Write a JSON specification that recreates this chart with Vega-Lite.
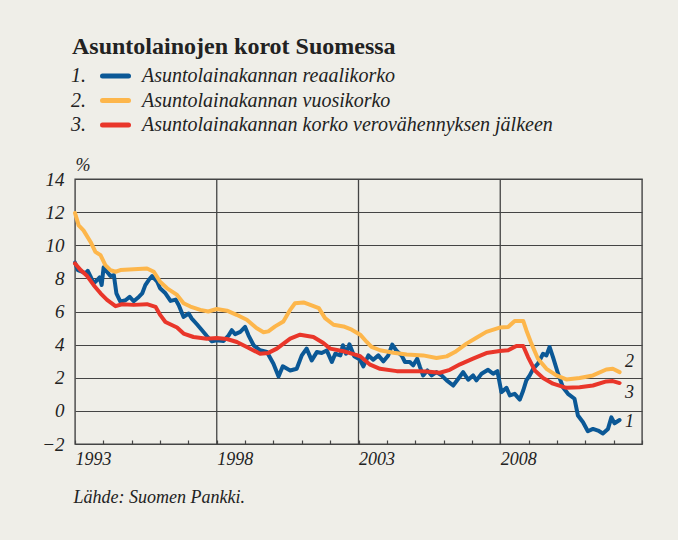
{
  "$schema": "https://vega.github.io/schema/vega-lite/v6.json",
  "width": 567,
  "height": 265,
  "autosize": {"type": "none"},
  "padding": {"left": 75, "top": 179, "right": 36, "bottom": 96},
  "background": "#EFEEE8",
  "config": {
    "view": {"stroke": "#444444", "strokeWidth": 1.4, "fill": "#EFEEE8"},
    "font": "Liberation Serif",
    "axisX": {
      "values": [1993,1994,1995,1996,1997,1998,1999,2000,2001,2002,2003,2004,2005,2006,2007,2008,2009,2010,2011,2012],
      "format": "d",
      "labelExpr": "(datum.value % 5 == 3 && datum.value < 2012) ? datum.label : ''",
      "labelAlign": "left",
      "labelBaseline": "alphabetic",
      "labelPadding": 24,
      "labelOverlap": false,
      "labelFont": "Liberation Serif",
      "labelFontStyle": "italic",
      "labelFontSize": 18,
      "labelColor": "#222222",
      "tickSize": -4,
      "tickColor": "#444444",
      "tickWidth": 1.2,
      "domain": false,
      "grid": false,
      "titleFont": "Liberation Serif",
      "titleFontStyle": "italic",
      "titleFontWeight": "normal",
      "titleFontSize": 18,
      "titleColor": "#222222",
      "titleAnchor": "start",
      "titleAlign": "left",
      "titleBaseline": "alphabetic",
      "titleX": -2,
      "titleY": 58
    },
    "axisY": {
      "values": [-2, 0, 2, 4, 6, 8, 10, 12, 14],
      "grid": true,
      "gridColor": "#444444",
      "gridWidth": 1.2,
      "gridOpacity": 1,
      "ticks": false,
      "domain": false,
      "labelOverlap": false,
      "labelPadding": 11,
      "labelFont": "Liberation Serif",
      "labelFontStyle": "italic",
      "labelFontSize": 19,
      "labelColor": "#222222",
      "labelBaseline": "middle",
      "titleAngle": 0,
      "titleFont": "Liberation Serif",
      "titleFontStyle": "italic",
      "titleFontWeight": "normal",
      "titleFontSize": 18,
      "titleColor": "#222222",
      "titleAlign": "left",
      "titleBaseline": "alphabetic",
      "titleX": 0,
      "titleY": -9
    }
  },
  "title": {
    "text": "Asuntolainojen korot Suomessa",
    "anchor": "start",
    "frame": "group",
    "font": "Liberation Serif",
    "fontSize": 24,
    "fontWeight": "bold",
    "color": "#222222",
    "dx": -3,
    "offset": 7
  },
  "datasets": {
    "lines": [
      {"s":"1","t":1993.0,"v":8.95},{"s":"1","t":1993.1,"v":8.5},{"s":"1","t":1993.25,"v":8.4},{"s":"1","t":1993.37,"v":8.3},{"s":"1","t":1993.45,"v":8.46},{"s":"1","t":1993.55,"v":8.1},{"s":"1","t":1993.66,"v":7.7},{"s":"1","t":1993.78,"v":7.9},{"s":"1","t":1993.87,"v":8.06},{"s":"1","t":1993.94,"v":7.6},{"s":"1","t":1994.01,"v":8.67},{"s":"1","t":1994.13,"v":8.4},{"s":"1","t":1994.25,"v":8.14},{"s":"1","t":1994.37,"v":8.2},{"s":"1","t":1994.46,"v":7.1},{"s":"1","t":1994.6,"v":6.6},{"s":"1","t":1994.78,"v":6.68},{"s":"1","t":1994.93,"v":6.88},{"s":"1","t":1995.07,"v":6.62},{"s":"1","t":1995.25,"v":6.88},{"s":"1","t":1995.37,"v":7.09},{"s":"1","t":1995.48,"v":7.59},{"s":"1","t":1995.6,"v":7.9},{"s":"1","t":1995.72,"v":8.14},{"s":"1","t":1995.9,"v":7.8},{"s":"1","t":1996.0,"v":7.4},{"s":"1","t":1996.19,"v":7.1},{"s":"1","t":1996.37,"v":6.64},{"s":"1","t":1996.55,"v":6.72},{"s":"1","t":1996.66,"v":6.38},{"s":"1","t":1996.83,"v":5.67},{"s":"1","t":1997.01,"v":5.88},{"s":"1","t":1997.12,"v":5.57},{"s":"1","t":1997.3,"v":5.23},{"s":"1","t":1997.48,"v":4.87},{"s":"1","t":1997.65,"v":4.52},{"s":"1","t":1997.83,"v":4.2},{"s":"1","t":1998.0,"v":4.26},{"s":"1","t":1998.24,"v":4.22},{"s":"1","t":1998.42,"v":4.56},{"s":"1","t":1998.53,"v":4.87},{"s":"1","t":1998.65,"v":4.63},{"s":"1","t":1998.83,"v":4.77},{"s":"1","t":1999.0,"v":5.07},{"s":"1","t":1999.12,"v":4.56},{"s":"1","t":1999.3,"v":3.96},{"s":"1","t":1999.53,"v":3.66},{"s":"1","t":1999.77,"v":3.56},{"s":"1","t":2000.0,"v":2.85},{"s":"1","t":2000.18,"v":2.08},{"s":"1","t":2000.33,"v":2.69},{"s":"1","t":2000.59,"v":2.44},{"s":"1","t":2000.82,"v":2.54},{"s":"1","t":2001.0,"v":3.35},{"s":"1","t":2001.17,"v":3.76},{"s":"1","t":2001.35,"v":3.05},{"s":"1","t":2001.53,"v":3.55},{"s":"1","t":2001.7,"v":3.49},{"s":"1","t":2001.88,"v":3.65},{"s":"1","t":2002.06,"v":2.95},{"s":"1","t":2002.18,"v":3.45},{"s":"1","t":2002.36,"v":3.35},{"s":"1","t":2002.45,"v":3.96},{"s":"1","t":2002.56,"v":3.45},{"s":"1","t":2002.68,"v":4.02},{"s":"1","t":2002.85,"v":3.3},{"s":"1","t":2003.05,"v":3.1},{"s":"1","t":2003.17,"v":2.68},{"s":"1","t":2003.35,"v":3.35},{"s":"1","t":2003.52,"v":3.09},{"s":"1","t":2003.7,"v":3.35},{"s":"1","t":2003.88,"v":2.99},{"s":"1","t":2004.05,"v":3.35},{"s":"1","t":2004.19,"v":4.0},{"s":"1","t":2004.35,"v":3.61},{"s":"1","t":2004.52,"v":3.35},{"s":"1","t":2004.64,"v":2.95},{"s":"1","t":2004.81,"v":2.95},{"s":"1","t":2004.93,"v":2.75},{"s":"1","t":2005.07,"v":3.15},{"s":"1","t":2005.17,"v":2.64},{"s":"1","t":2005.28,"v":2.14},{"s":"1","t":2005.43,"v":2.44},{"s":"1","t":2005.58,"v":2.14},{"s":"1","t":2005.75,"v":2.34},{"s":"1","t":2005.93,"v":2.14},{"s":"1","t":2006.11,"v":1.84},{"s":"1","t":2006.34,"v":1.53},{"s":"1","t":2006.52,"v":1.94},{"s":"1","t":2006.69,"v":2.34},{"s":"1","t":2006.87,"v":1.88},{"s":"1","t":2007.04,"v":2.14},{"s":"1","t":2007.16,"v":1.84},{"s":"1","t":2007.34,"v":2.24},{"s":"1","t":2007.57,"v":2.48},{"s":"1","t":2007.75,"v":2.24},{"s":"1","t":2007.9,"v":2.4},{"s":"1","t":2008.04,"v":1.13},{"s":"1","t":2008.22,"v":1.39},{"s":"1","t":2008.34,"v":0.93},{"s":"1","t":2008.51,"v":1.03},{"s":"1","t":2008.69,"v":0.68},{"s":"1","t":2008.81,"v":1.23},{"s":"1","t":2008.92,"v":1.84},{"s":"1","t":2009.04,"v":2.14},{"s":"1","t":2009.16,"v":2.54},{"s":"1","t":2009.33,"v":2.85},{"s":"1","t":2009.51,"v":3.45},{"s":"1","t":2009.63,"v":3.35},{"s":"1","t":2009.74,"v":3.86},{"s":"1","t":2009.86,"v":3.25},{"s":"1","t":2010.04,"v":2.24},{"s":"1","t":2010.21,"v":1.43},{"s":"1","t":2010.39,"v":1.03},{"s":"1","t":2010.62,"v":0.73},{"s":"1","t":2010.74,"v":-0.28},{"s":"1","t":2010.92,"v":-0.69},{"s":"1","t":2011.09,"v":-1.23},{"s":"1","t":2011.27,"v":-1.09},{"s":"1","t":2011.45,"v":-1.19},{"s":"1","t":2011.62,"v":-1.36},{"s":"1","t":2011.8,"v":-1.09},{"s":"1","t":2011.92,"v":-0.39},{"s":"1","t":2012.03,"v":-0.75},{"s":"1","t":2012.21,"v":-0.55},
      {"s":"2","t":1993.0,"v":11.95},{"s":"2","t":1993.13,"v":11.2},{"s":"2","t":1993.3,"v":10.9},{"s":"2","t":1993.55,"v":10.2},{"s":"2","t":1993.72,"v":9.6},{"s":"2","t":1993.9,"v":9.4},{"s":"2","t":1994.07,"v":8.8},{"s":"2","t":1994.25,"v":8.5},{"s":"2","t":1994.43,"v":8.4},{"s":"2","t":1994.6,"v":8.5},{"s":"2","t":1995.07,"v":8.55},{"s":"2","t":1995.54,"v":8.6},{"s":"2","t":1995.78,"v":8.4},{"s":"2","t":1996.0,"v":7.8},{"s":"2","t":1996.25,"v":7.4},{"s":"2","t":1996.6,"v":7.0},{"s":"2","t":1996.83,"v":6.5},{"s":"2","t":1997.07,"v":6.3},{"s":"2","t":1997.42,"v":6.1},{"s":"2","t":1997.7,"v":6.0},{"s":"2","t":1998.0,"v":6.15},{"s":"2","t":1998.36,"v":6.05},{"s":"2","t":1998.7,"v":5.8},{"s":"2","t":1999.06,"v":5.5},{"s":"2","t":1999.4,"v":5.0},{"s":"2","t":1999.65,"v":4.75},{"s":"2","t":1999.82,"v":4.8},{"s":"2","t":2000.06,"v":5.1},{"s":"2","t":2000.35,"v":5.4},{"s":"2","t":2000.59,"v":6.1},{"s":"2","t":2000.76,"v":6.5},{"s":"2","t":2001.06,"v":6.55},{"s":"2","t":2001.3,"v":6.4},{"s":"2","t":2001.6,"v":6.2},{"s":"2","t":2001.82,"v":5.6},{"s":"2","t":2002.12,"v":5.2},{"s":"2","t":2002.47,"v":5.1},{"s":"2","t":2002.76,"v":4.9},{"s":"2","t":2003.06,"v":4.6},{"s":"2","t":2003.29,"v":4.16},{"s":"2","t":2003.46,"v":3.86},{"s":"2","t":2003.76,"v":3.66},{"s":"2","t":2004.23,"v":3.51},{"s":"2","t":2004.7,"v":3.41},{"s":"2","t":2005.28,"v":3.35},{"s":"2","t":2005.75,"v":3.19},{"s":"2","t":2006.11,"v":3.29},{"s":"2","t":2006.4,"v":3.55},{"s":"2","t":2006.81,"v":4.06},{"s":"2","t":2007.16,"v":4.42},{"s":"2","t":2007.51,"v":4.77},{"s":"2","t":2007.98,"v":5.03},{"s":"2","t":2008.28,"v":5.07},{"s":"2","t":2008.51,"v":5.43},{"s":"2","t":2008.81,"v":5.43},{"s":"2","t":2008.92,"v":4.87},{"s":"2","t":2009.1,"v":4.06},{"s":"2","t":2009.33,"v":3.15},{"s":"2","t":2009.63,"v":2.54},{"s":"2","t":2009.98,"v":2.14},{"s":"2","t":2010.33,"v":1.9},{"s":"2","t":2010.8,"v":1.98},{"s":"2","t":2011.27,"v":2.14},{"s":"2","t":2011.74,"v":2.5},{"s":"2","t":2011.97,"v":2.54},{"s":"2","t":2012.21,"v":2.34},
      {"s":"3","t":1993.0,"v":8.9},{"s":"3","t":1993.2,"v":8.5},{"s":"3","t":1993.43,"v":8.14},{"s":"3","t":1993.66,"v":7.59},{"s":"3","t":1993.9,"v":7.1},{"s":"3","t":1994.13,"v":6.7},{"s":"3","t":1994.43,"v":6.32},{"s":"3","t":1994.66,"v":6.44},{"s":"3","t":1995.07,"v":6.4},{"s":"3","t":1995.54,"v":6.44},{"s":"3","t":1995.84,"v":6.28},{"s":"3","t":1996.01,"v":5.78},{"s":"3","t":1996.19,"v":5.37},{"s":"3","t":1996.6,"v":5.03},{"s":"3","t":1996.83,"v":4.67},{"s":"3","t":1997.18,"v":4.46},{"s":"3","t":1997.65,"v":4.36},{"s":"3","t":1998.0,"v":4.4},{"s":"3","t":1998.36,"v":4.34},{"s":"3","t":1998.71,"v":4.16},{"s":"3","t":1999.06,"v":3.86},{"s":"3","t":1999.53,"v":3.45},{"s":"3","t":1999.82,"v":3.5},{"s":"3","t":2000.12,"v":3.76},{"s":"3","t":2000.59,"v":4.36},{"s":"3","t":2000.94,"v":4.6},{"s":"3","t":2001.41,"v":4.46},{"s":"3","t":2001.76,"v":4.1},{"s":"3","t":2002.0,"v":3.76},{"s":"3","t":2002.47,"v":3.6},{"s":"3","t":2002.82,"v":3.43},{"s":"3","t":2003.06,"v":3.3},{"s":"3","t":2003.41,"v":2.79},{"s":"3","t":2003.76,"v":2.54},{"s":"3","t":2004.35,"v":2.4},{"s":"3","t":2005.05,"v":2.4},{"s":"3","t":2005.4,"v":2.38},{"s":"3","t":2005.87,"v":2.3},{"s":"3","t":2006.22,"v":2.48},{"s":"3","t":2006.58,"v":2.81},{"s":"3","t":2007.04,"v":3.15},{"s":"3","t":2007.51,"v":3.49},{"s":"3","t":2007.98,"v":3.61},{"s":"3","t":2008.28,"v":3.66},{"s":"3","t":2008.57,"v":3.92},{"s":"3","t":2008.81,"v":3.92},{"s":"3","t":2008.98,"v":3.25},{"s":"3","t":2009.22,"v":2.44},{"s":"3","t":2009.51,"v":1.99},{"s":"3","t":2009.86,"v":1.64},{"s":"3","t":2010.33,"v":1.39},{"s":"3","t":2010.8,"v":1.43},{"s":"3","t":2011.27,"v":1.53},{"s":"3","t":2011.74,"v":1.78},{"s":"3","t":2011.97,"v":1.8},{"s":"3","t":2012.21,"v":1.68}
    ],
    "ends": [
      {"n": "1", "t": 2012.4, "v": -0.69},
      {"n": "2", "t": 2012.4, "v": 2.93},
      {"n": "3", "t": 2012.4, "v": 1.05}
    ],
    "grid": [{"t": 1998}, {"t": 2003}, {"t": 2008}]
  },
  "layer": [
    {
      "data": {"name": "grid"},
      "mark": {"type": "rule", "color": "#444444", "strokeWidth": 1.3},
      "encoding": {
        "x": {"field": "t", "type": "quantitative", "scale": {"domain": [1993, 2013], "nice": false, "zero": false}, "title": "Lähde: Suomen Pankki."}
      }
    },
    {
      "data": {"name": "lines"},
      "mark": {"type": "line", "strokeWidth": 4, "strokeCap": "round", "strokeJoin": "round"},
      "encoding": {
        "x": {"field": "t", "type": "quantitative", "scale": {"domain": [1993, 2013], "nice": false, "zero": false}, "title": "Lähde: Suomen Pankki."},
        "y": {"field": "v", "type": "quantitative", "scale": {"domain": [-2, 14], "nice": false, "zero": false}, "title": "%"},
        "color": {
          "field": "s", "type": "nominal",
          "scale": {"domain": ["1", "2", "3"], "range": ["#0B5896", "#FDB64B", "#E9362A"]},
          "legend": {
            "orient": "none",
            "legendX": 30.5,
            "legendY": -113,
            "title": null,
            "direction": "vertical",
            "padding": 0,
            "symbolType": "M-2.6,0H2.6",
            "symbolSize": 100,
            "symbolStrokeWidth": 5,
            "labelOffset": 16.5,
            "rowPadding": 4.5,
            "labelFont": "Liberation Serif",
            "labelFontStyle": "italic",
            "labelFontSize": 20,
            "labelColor": "#222222",
            "labelLimit": 600,
            "labelExpr": "datum.label == '1' ? 'Asuntolainakannan reaalikorko' : datum.label == '2' ? 'Asuntolainakannan vuosikorko' : 'Asuntolainakannan korko verovähennyksen jälkeen'",
            "encode": {"symbols": {"update": {"strokeCap": {"value": "round"}}}}
          }
        }
      }
    },
    {
      "data": {"name": "ends"},
      "mark": {"type": "point", "opacity": 0},
      "encoding": {
        "x": {"field": "t", "type": "quantitative", "title": "Lähde: Suomen Pankki."},
        "y": {"field": "v", "type": "quantitative", "title": "%"},
        "shape": {
          "field": "n", "type": "nominal",
          "legend": {
            "orient": "none",
            "legendX": -24,
            "legendY": -113,
            "title": null,
            "direction": "vertical",
            "padding": 0,
            "symbolSize": 0,
            "symbolOpacity": 0,
            "symbolStrokeWidth": 0,
            "labelOffset": 0,
            "rowPadding": 4.5,
            "labelFont": "Liberation Serif",
            "labelFontStyle": "italic",
            "labelFontSize": 20,
            "labelColor": "#222222",
            "labelExpr": "datum.label + '.'"
          }
        }
      }
    },
    {
      "data": {"name": "ends"},
      "mark": {"type": "text", "align": "left", "baseline": "middle", "font": "Liberation Serif", "fontStyle": "italic", "fontSize": 18, "color": "#222222"},
      "encoding": {
        "x": {"field": "t", "type": "quantitative", "title": "Lähde: Suomen Pankki."},
        "y": {"field": "v", "type": "quantitative", "title": "%"},
        "text": {"field": "n"}
      }
    }
  ]
}
